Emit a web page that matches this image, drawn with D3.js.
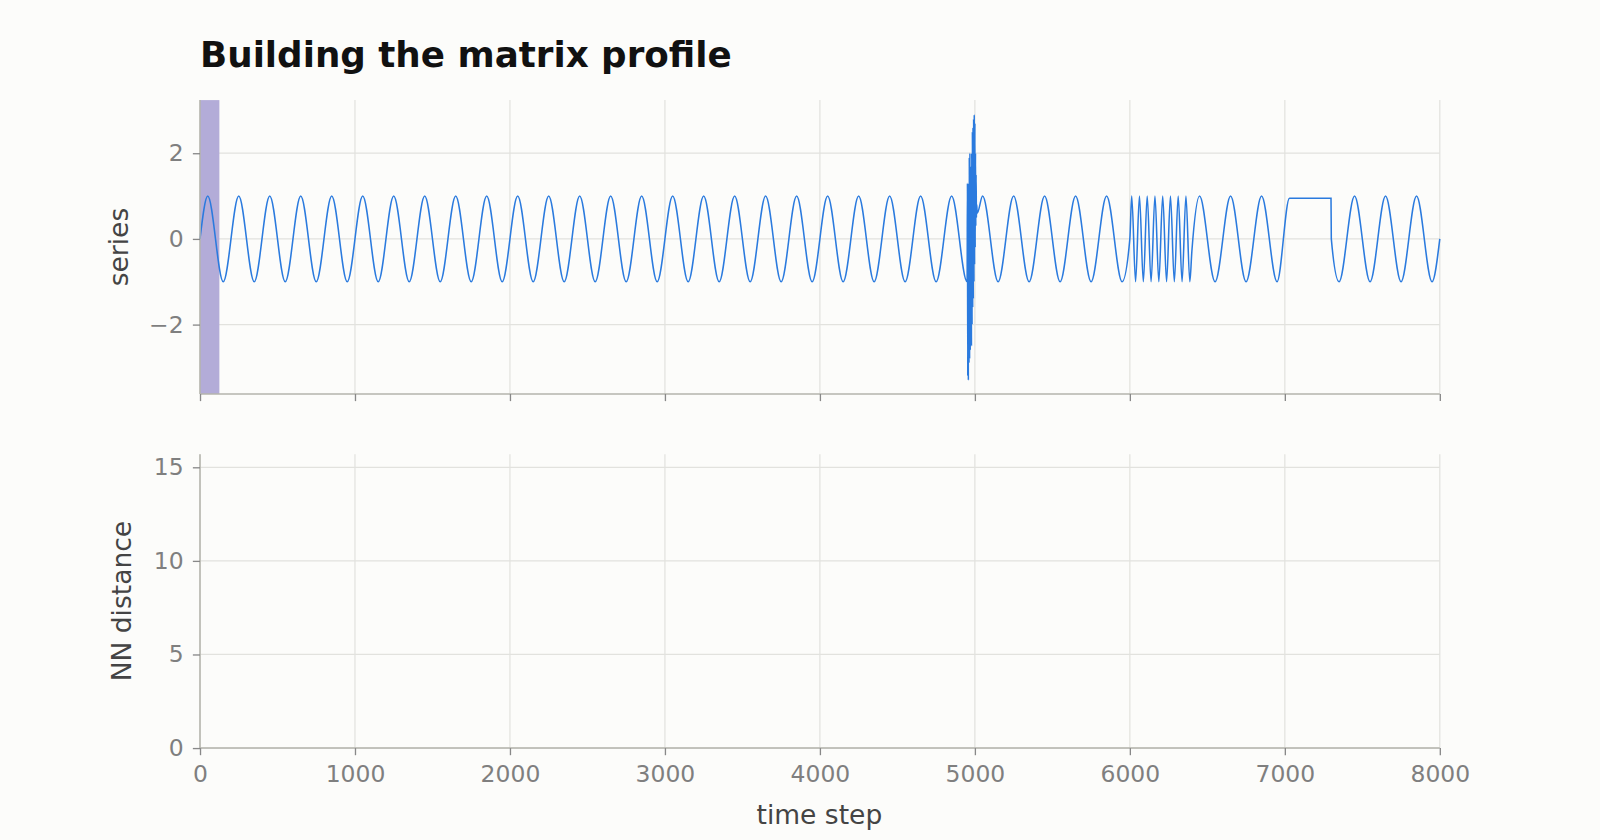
<!DOCTYPE html>
<html><head><meta charset="utf-8">
<script src="https://cdn.jsdelivr.net/npm/d3@7"></script>
<style>body{margin:0;background:#fcfcfa}svg{display:block}text{font-family:"DejaVu Sans",sans-serif}</style>
</head><body>
<svg id="chart" width="1600" height="840" viewBox="0 0 1568 823"></svg>
<script>
// segments of regular oscillation: start, end, period, first extremum time and sign
var segStart = [0, 5000, 6000, 6400, 7300]
var segEnd = [4950, 6000, 6400, 7030, 8000]
var segPeriod = [200, 200, 50, 200, 200]
var segFirstExt = [50, 5050, 6012, 6450, 7350]
var segFirstSign = [1, 1, 1, 1, -1]

// burst of noise around t=4950..5015
var burstT = [4952, 4954, 4956, 4958, 4960, 4962, 4964, 4966, 4968, 4970, 4972, 4974, 4976, 4978, 4980, 4982, 4984, 4986, 4988, 4990, 4992, 4994, 4996, 4998, 5000, 5002, 5004, 5006, 5008, 5010, 5012, 5015]
var burstV = [1.3, -3.2, 1.2, -3.3, 1.3, -2.9, 1.9, -2.8, 2.0, -2.6, 1.6, -2.4, 1.7, -2.5, 2.0, -2.0, 2.5, -1.6, 2.6, -1.4, 2.8, -1.0, 2.9, -0.6, 2.7, -0.2, 2.0, 0.3, 1.5, 0.5, 0.8, 0.6]

// plateau
var flatT = [7030, 7298]
var flatV = [0.95, 0.95]

var xTicks = [0, 1000, 2000, 3000, 4000, 5000, 6000, 7000, 8000]
var topTicks = [-2, 0, 2]
var botTicks = [0, 5, 10, 15]
var windowLen = 125

var svg = d3.select('#chart')
var left = 196, right = 1411
var x = d3.scaleLinear().domain([0, 8000]).range([left, right])
var yTop = d3.scaleLinear().domain([-3.62, 3.24]).range([386, 98])
var yBot = d3.scaleLinear().domain([0, 15.7]).range([733, 445])

// build points: extrema of each segment plus burst and plateau
var pts = [[0, 0]]
segStart.forEach(function(s, i) {
    var p = segPeriod[i], t = segFirstExt[i], sign = segFirstSign[i]
    if (i == 2) pts.push([6000, 0])
    if (i == 3) pts.push([6400, -0.3])
    if (i == 4) pts.push([7300, 0])
    while (t <= segEnd[i]) {
        pts.push([t, sign])
        t += p / 2
        sign = -sign
    }
    if (i == 0) burstT.forEach(function(bt, j) { pts.push([bt, burstV[j]]) })
    if (i == 3) flatT.forEach(function(ft, j) { pts.push([ft, flatV[j]]) })
})
pts.push([8000, 0])
pts.sort(function(a, b) { return a[0] - b[0] })

function grid(g, y, ticks) {
    g.selectAll('.gx').data(xTicks).join('line')
        .attr('x1', d => x(d)).attr('x2', d => x(d))
        .attr('y1', y.range()[1]).attr('y2', y.range()[0])
        .attr('stroke', '#e2e2de').attr('stroke-width', 1.2)
    g.selectAll('.gy').data(ticks).join('line').attr('class', 'gy')
        .attr('x1', left).attr('x2', right)
        .attr('y1', d => y(d)).attr('y2', d => y(d))
        .attr('stroke', '#e2e2de').attr('stroke-width', 1.2)
}

function axes(y, ticks, showX) {
    var ya = svg.append('g').attr('transform', 'translate(' + left + ',0)')
        .call(d3.axisLeft(y).tickValues(ticks).tickSize(7).tickPadding(9).tickFormat(d => d < 0 ? '\u2212' + (-d) : d))
    var xa = svg.append('g').attr('transform', 'translate(0,' + y.range()[0] + ')')
        .call(d3.axisBottom(x).tickValues(xTicks).tickSize(7).tickPadding(10).tickFormat(showX ? d3.format('d') : ''))
    ;[ya, xa].forEach(function(a) {
        a.selectAll('.domain').attr('stroke', '#b5b5ad').attr('stroke-width', 1.5)
        a.selectAll('.tick line').attr('stroke', '#888').attr('stroke-width', 1.3)
        a.selectAll('text').attr('fill', '#7f7f7f').style('font-size', '23px')
    })
    ya.select('.domain').attr('d', 'M0,' + y.range()[0] + 'V' + y.range()[1])
    xa.select('.domain').attr('d', 'M' + left + ',0H' + right)
}

grid(svg.append('g'), yTop, topTicks)
grid(svg.append('g'), yBot, botTicks)

svg.append('rect').attr('x', x(0)).attr('y', 98)
    .attr('width', x(windowLen) - x(0)).attr('height', 386 - 98)
    .attr('fill', '#b3acd8')

svg.append('path').datum(pts)
    .attr('d', d3.line().x(d => x(d[0])).y(d => yTop(d[1])).curve(d3.curveMonotoneX))
    .attr('fill', 'none').attr('stroke', '#2a7ade').attr('stroke-width', 1.5)

axes(yTop, topTicks, false)
axes(yBot, botTicks, true)

svg.append('text').attr('x', 196).attr('y', 66).text('Building the matrix profile')
    .style('font-size', '35px').style('font-weight', 'bold').attr('fill', '#111')
svg.append('text').attr('transform', 'translate(125,242) rotate(-90)').attr('text-anchor', 'middle')
    .text('series').style('font-size', '26px').attr('fill', '#444')
svg.append('text').attr('transform', 'translate(128,589) rotate(-90)').attr('text-anchor', 'middle')
    .text('NN distance').style('font-size', '26px').attr('fill', '#444')
svg.append('text').attr('x', 803).attr('y', 807).attr('text-anchor', 'middle')
    .text('time step').style('font-size', '26px').attr('fill', '#444')
</script>
</body></html>
